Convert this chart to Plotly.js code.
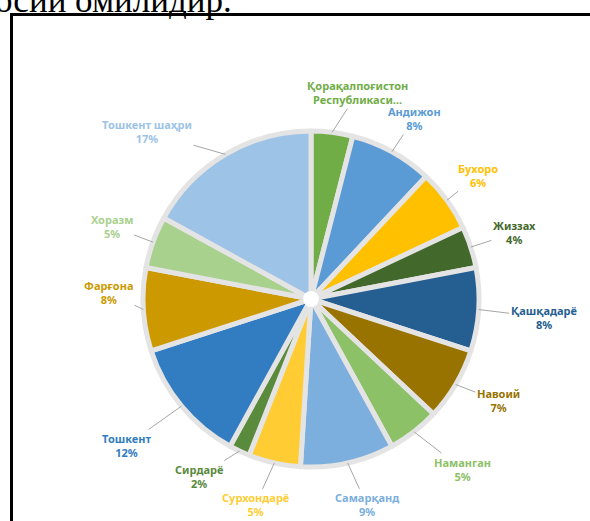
<!DOCTYPE html>
<html>
<head>
<meta charset="utf-8">
<script src="https://cdn.plot.ly/plotly-3.0.1.min.js"></script>
<style>html,body{margin:0;padding:0;background:#fff;}#chart{width:590px;height:521px;}</style>
</head>
<body>
<div id="chart"></div>
<script>
// ---- data ----
const regions = ["Қорақалпоғистон Республикаси", "Андижон", "Бухоро", "Жиззах", "Қашқадарё", "Навоий", "Наманган", "Самарқанд", "Сурхондарё", "Сирдарё", "Тошкент", "Фарғона", "Хоразм", "Тошкент шаҳри"];
const shares = [4, 8, 6, 4, 8, 7, 5, 9, 5, 2, 12, 8, 5, 17];
const labelTexts = ["Қорақалпоғистон<br>Республикаси…", "Андижон<br>8%", "Бухоро<br>6%", "Жиззах<br>4%", "Қашқадарё<br>8%", "Навоий<br>7%", "Наманган<br>5%", "Самарқанд<br>9%", "Сурхондарё<br>5%", "Сирдарё<br>2%", "Тошкент<br>12%", "Фарғона<br>8%", "Хоразм<br>5%", "Тошкент шаҳри<br>17%"];
const colors = ["#70AD47", "#5B9BD5", "#FFC000", "#43682B", "#255E91", "#997300", "#8CC168", "#7CAFDD", "#FFCD33", "#5A8A3C", "#327DC2", "#CC9A00", "#A9D18E", "#9DC3E6"];
const headText = "осий омилидир.";

// ---- layout geometry (styling, not data) ----
const W = 590, H = 521;
const CX = 311, CY = 299, R = 168, RL = 214;
// small label nudges in pixels, mimicking the spreadsheet's label placement
const labelNudge = [[20, 6], [0, 7], [-6, 2], [0, 0], [19, 5], [3, -7], [20, 1], [9, -3], [-9, -3], [-21, -16], [-20, 10], [11, -20], [2, 0], [-55, 17]];

const domX = [(CX - R) / W, (CX + R) / W];
const domY = [1 - (CY + R) / H, 1 - (CY - R) / H];

const total = shares.reduce((a, b) => a + b, 0);
let cum = 0;
const annotations = [];
shares.forEach((v, i) => {
  const mid = (cum + v / 2) / total * 2 * Math.PI;
  cum += v;
  const ex = CX + R * Math.sin(mid), ey = CY - R * Math.cos(mid);
  const d = RL - R;
  annotations.push({
    xref: 'paper', yref: 'paper',
    x: ex / W, y: 1 - ey / H,
    ax: d * Math.sin(mid) + labelNudge[i][0], ay: -d * Math.cos(mid) + labelNudge[i][1],
    axref: 'pixel', ayref: 'pixel',
    text: labelTexts[i],
    showarrow: true, arrowhead: 0, arrowwidth: 1, arrowcolor: '#a6a6a6', standoff: 0,
    font: {family: '"Noto Sans", "Open Sans", sans-serif', size: 11, color: colors[i], weight: 'bold'},
    align: 'center'
  });
});
annotations.push({
  xref: 'paper', yref: 'paper', x: 0, y: 1,
  xanchor: 'left', yanchor: 'middle', xshift: -7,
  text: headText, showarrow: false,
  font: {family: '"Liberation Serif", "DejaVu Serif", serif', size: 35, color: '#000'}
});

const trace = {
  type: 'pie',
  labels: regions,
  values: shares,
  sort: false,
  direction: 'clockwise',
  rotation: 0,
  textinfo: 'none',
  hoverinfo: 'skip',
  marker: {colors: colors, line: {color: '#e4e4e4', width: 5}},
  domain: {x: domX, y: domY}
};

const layout = {
  width: W, height: H,
  margin: {l: 0, r: 0, t: 0, b: 0},
  paper_bgcolor: '#fff',
  showlegend: false,
  annotations: annotations,
  shapes: [
    {type: 'rect', xref: 'paper', yref: 'paper', x0: 11.5 / W, x1: 1.1, y0: -0.1, y1: 1 - 14.5 / H,
     line: {color: '#000', width: 3}, fillcolor: 'rgba(0,0,0,0)', layer: 'below'},
    {type: 'circle', xref: 'paper', yref: 'paper', xsizemode: 'pixel', ysizemode: 'pixel',
     xanchor: CX / W, yanchor: 1 - CY / H, x0: -8, x1: 8, y0: -8, y1: 8,
     fillcolor: '#fff', line: {width: 0}}
  ]
};

Plotly.newPlot('chart', [trace], layout, {displayModeBar: false, staticPlot: true});
</script>
</body>
</html>
